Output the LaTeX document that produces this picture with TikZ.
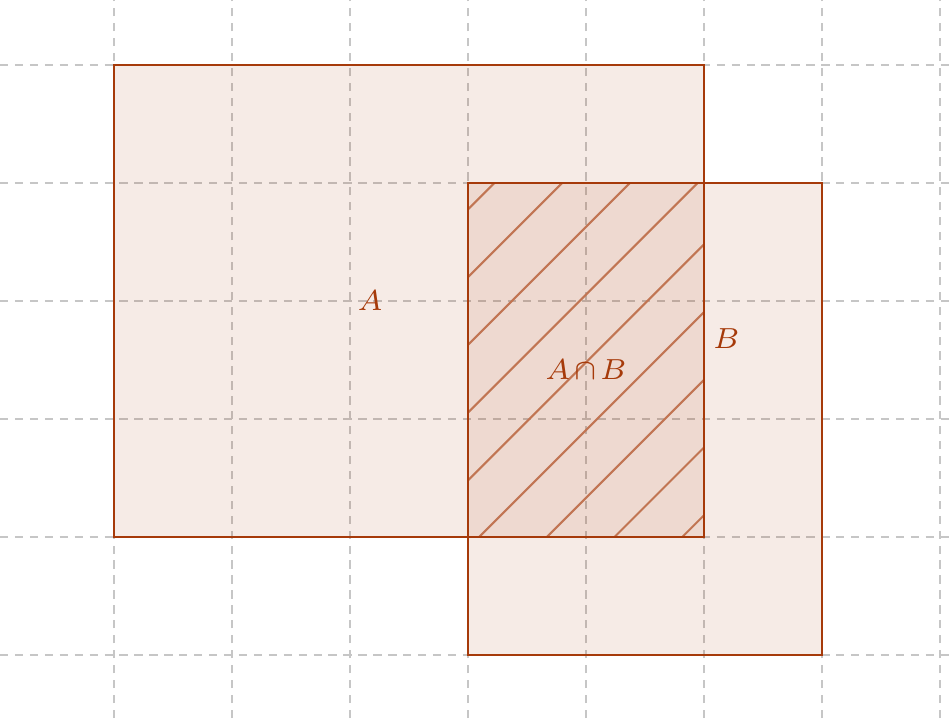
\documentclass[tikz,border=0pt]{standalone}
\usepackage{amssymb}
\usepackage{amsmath}
\definecolor{setedge}{HTML}{A63A0A}

\begin{document}
\begin{tikzpicture}[
  gridline/.style={gray!45, line width=0.4pt, dash pattern=on 2pt off 1.6pt},
  setbox/.style={draw=setedge, fill=setedge, fill opacity=0.1, line width=0.5pt},
  hatchline/.style={setedge!70, line width=0.5pt},
  setlabel/.style={text=setedge, font=\fontsize{7.5}{9}\selectfont}
]
\useasboundingbox (-0.966,-0.534) rectangle (7.093,5.551);
% grid
\foreach \x in {0,...,7} \draw[gridline] (\x,-0.534) -- (\x,5.551);
\foreach \y in {0,...,5} \draw[gridline] (-0.966,\y) -- (7.093,\y);
% the two sets
\draw[setbox] (0,1) rectangle (5,5);
\draw[setbox] (3,0) rectangle (6,4);
% hatched intersection
\begin{scope}
\clip (3,1) rectangle (5,4);
\foreach \c in {0,...,8} \draw[hatchline] ({-0.777+0.574*\c},0) -- ++(5,5);
\end{scope}
\draw[setedge, line width=0.65pt] (3,1) rectangle (5,4);
\node[setlabel] (labA) at (2.17,3) {$A$};
\node[setlabel] (labB) at (5.19,2.68) {$B$};
\node[setlabel] (labAB) at (4,2.415) {$A\mkern-2mu\cap\mkern-2mu B$};
\end{tikzpicture}
\end{document}
